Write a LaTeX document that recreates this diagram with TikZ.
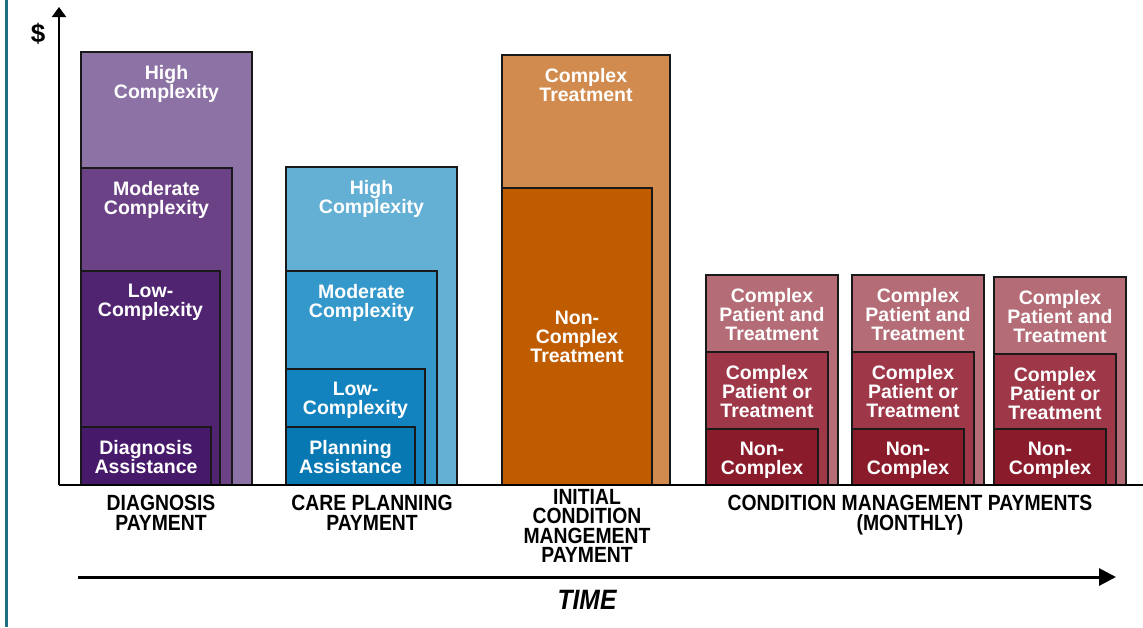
\documentclass[tikz,border=0pt]{standalone}
\usepackage{fontspec}
\setmainfont{Liberation Sans}
\newfontfamily\condfont[FakeStretch=0.88]{Liberation Sans}
\usetikzlibrary{arrows.meta}

\definecolor{frameteal}{HTML}{1D6E83}
\definecolor{dgA}{HTML}{8C72A5}
\definecolor{dgB}{HTML}{6B4286}
\definecolor{dgC}{HTML}{502470}
\definecolor{dgD}{HTML}{47196A}
\definecolor{cpA}{HTML}{64AFD4}
\definecolor{cpB}{HTML}{3498CB}
\definecolor{cpC}{HTML}{1283BE}
\definecolor{cpD}{HTML}{0878B2}
\definecolor{icA}{HTML}{D18B4E}
\definecolor{icB}{HTML}{C05C00}
\definecolor{cmA}{HTML}{B46C76}
\definecolor{cmB}{HTML}{9E3849}
\definecolor{cmC}{HTML}{8A1B2B}

\tikzset{
  tier/.style={draw=black!90, line width=1.3pt},
  tierlabel/.style={text=white, align=center, inner sep=0pt, anchor=north,
    font=\fontsize{19.5}{19}\selectfont\bfseries},
  category/.style={text=black, align=center, inner sep=0pt, anchor=north,
    font=\condfont\fontsize{22}{19.5}\selectfont\bfseries},
  axis/.style={line width=2pt, draw=black},
}

% one payment tier: fill colour, corners, label node name, label text
\newcommand\paytier[7]{%
  \draw[tier, fill=#1] (#2,#3) rectangle (#4,#5);
  \node[tierlabel] (#6) at ({(#2+#4)/2},{#3+13}) {#7};
}

\begin{document}
\begin{tikzpicture}[x=1pt,y=-1pt]
\useasboundingbox (0,0) rectangle (1143,627);

% frame rule on the left
\fill[frameteal] (5,0) rectangle (8,627);

% axes
\coordinate (origin) at (59,485);
\coordinate (ytop) at (59,7);
\coordinate (xend) at (1143,485);
\node[inner sep=0pt, font=\fontsize{26}{26}\selectfont\bfseries] (dollar) at (38,34) {\$};

% diagnosis payment
\paytier{dgA}{81}{52}{252}{485}{dgHigh}{High\\Complexity}
\paytier{dgB}{81}{168}{232}{485}{dgMod}{Moderate\\Complexity}
\paytier{dgC}{81}{271}{220}{485}{dgLow}{Low-\\Complexity}
\paytier{dgD}{81}{427}{211}{485}{dgAssist}{Diagnosis\\Assistance}

% care planning payment
\paytier{cpA}{286}{167}{457}{485}{cpHigh}{High\\Complexity}
\paytier{cpB}{286}{271}{437}{485}{cpMod}{Moderate\\Complexity}
\paytier{cpC}{286}{369}{425}{485}{cpLow}{Low-\\Complexity}
\paytier{cpD}{286}{427}{415}{485}{cpAssist}{Planning\\Assistance}

% initial condition management payment
\paytier{icA}{502}{55}{670}{485}{icComplex}{Complex\\Treatment}
\draw[tier, fill=icB] (502,188) rectangle (652,485);
\node[tierlabel] (icNon) at (577,311) {Non-\\Complex\\Treatment};

% monthly condition management payments
\foreach \x/\y/\m in {706/275/1, 852/275/2, 994/277/3}{
  \paytier{cmA}{\x}{\y}{\x+132}{485}{cmOuter\m}{Complex\\Patient and\\Treatment}
  \paytier{cmB}{\x}{\y+77}{\x+122}{485}{cmMid\m}{Complex\\Patient or\\Treatment}
  \paytier{cmC}{\x}{429}{\x+112}{485}{cmInner\m}{Non-\\Complex}
}

% axes drawn over the bars
\draw[axis] (origin) -- (xend);
\draw[axis, -{Triangle[width=14pt,length=10pt]}] (origin) -- (ytop);

% category labels
\node[category] (lblDiag) at (161,495) {DIAGNOSIS\\PAYMENT};
\node[category] (lblCare) at (372,495) {CARE PLANNING\\PAYMENT};
\node[category] (lblInit) at (587,489) {INITIAL\\CONDITION\\MANGEMENT\\PAYMENT};
\node[category] (lblCM) at (910,495) {CONDITION MANAGEMENT PAYMENTS\\(MONTHLY)};

% time axis
\coordinate (tstart) at (78,577);
\coordinate (tend) at (1116,577);
\draw[line width=3pt, -{Triangle[width=17pt,length=17pt]}] (tstart) -- (tend);
\node[inner sep=0pt, font=\condfont\fontsize{28}{28}\selectfont\bfseries\itshape] (time) at (587,600) {TIME};
\end{tikzpicture}
\end{document}
